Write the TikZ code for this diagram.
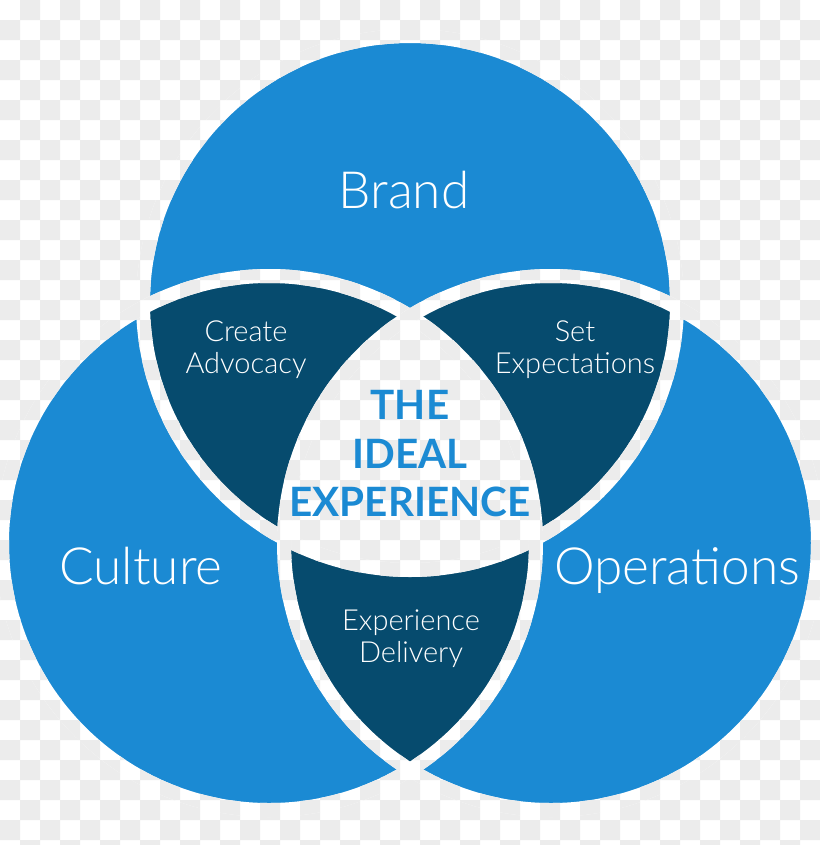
\documentclass[tikz,border=0pt]{standalone}
\usepackage{fontspec}
\setmainfont{Lato}
\newfontfamily\thinfont{Lato Light}
\definecolor{VennBlue}{RGB}{27,138,211}
\definecolor{VennNavy}{RGB}{6,75,110}
\definecolor{CheckGray}{RGB}{236,236,236}

\newcommand\vennR{267}
\newcommand\gapR{7}
% see-through grid, 20px squares
\newcommand\checkers{%
  \fill[white] (0,0) rectangle (820,845);
  \fill[CheckGray] \foreach \j in {0,...,42}{
    \foreach \k in {0,...,20}{
      ({20*(2*\k+1-mod(\j,2))},{20*\j}) rectangle ++(20,20)
    }};
}
% ring round a set rim, both ways round so the hole stays out
\newcommand\ringclip[1]{%
  \clip (#1) ++(\vennR+\gapR,0) arc[start angle=0,end angle=360,radius=\vennR+\gapR]
        (#1) ++(\vennR-\gapR,0) arc[start angle=360,end angle=0,radius=\vennR-\gapR];}

\begin{document}
\begin{tikzpicture}[x=0.2mm,y=-0.2mm,
  biglabel/.style={text=white,font=\thinfont\fontsize{29.2}{30}\selectfont,anchor=base},
  smalllabel/.style={text=white,font=\thinfont\fontsize{16.5}{18.2}\selectfont,align=center},
  idealtext/.style={text=VennBlue,font=\bfseries\fontsize{23}{27.6}\selectfont,align=center}]
  \useasboundingbox (0,0) rectangle (820,845);
  \clip (0,0) rectangle (820,845);
  \checkers
  \coordinate (brandC) at (410,303);
  \coordinate (cultureC) at (269,543);
  \coordinate (operC) at (551,543);
  % the three sets
  \fill[VennBlue] (brandC) circle (\vennR) (cultureC) circle (\vennR)
    (operC) circle (\vennR);
  % two by two overlaps
  \begin{scope}
    \clip (cultureC) circle (\vennR);
    \fill[VennNavy] (brandC) circle (\vennR) (operC) circle (\vennR);
  \end{scope}
  \begin{scope}
    \clip (operC) circle (\vennR);
    \fill[VennNavy] (brandC) circle (\vennR);
  \end{scope}
  % middle stays open
  \begin{scope}
    \clip (brandC) circle (\vennR);
    \clip (cultureC) circle (\vennR);
    \clip (operC) circle (\vennR);
    \checkers
  \end{scope}
  % gaps along every rim
  \foreach \c in {brandC,cultureC,operC}{
    \begin{scope}
      \ringclip{\c}
      \checkers
    \end{scope}}

  \node[biglabel] (brand) at (404,208) {Brand};
  \node[biglabel] (culture) at (141,584) {Culture};
  \node[biglabel] (oper) at (677,584) {Operations};
  \node[smalllabel] (advocacy) at (246,350) {Create\\Advocacy};
  \node[smalllabel] (expect) at (575,350) {Set\\Expectations};
  \node[smalllabel] (delivery) at (411,639) {Experience\\Delivery};
  \node[idealtext] (ideal) at (410,454) {THE\\IDEAL\\EXPERIENCE};
\end{tikzpicture}
\end{document}
